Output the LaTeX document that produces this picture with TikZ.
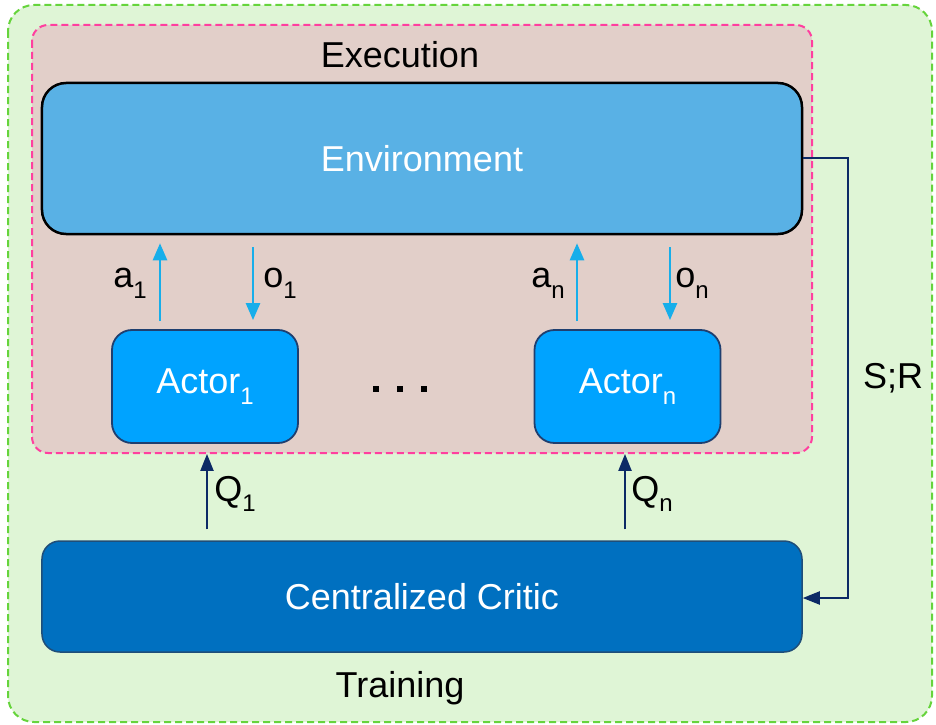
\documentclass[tikz,border=0pt]{standalone}
\usepackage{fontspec}
\setmainfont{Liberation Sans}
\usetikzlibrary{arrows.meta,calc}
\definecolor{trainfill}{HTML}{DFF5D6}
\definecolor{trainline}{HTML}{66D43C}
\definecolor{execfill}{HTML}{E2CFC9}
\definecolor{execline}{HTML}{FF3F9F}
\definecolor{envfill}{HTML}{59B1E5}
\definecolor{actfill}{HTML}{00A3FF}
\definecolor{actline}{HTML}{1F3F6F}
\definecolor{criticfill}{HTML}{0070C0}
\definecolor{criticline}{HTML}{1F4E79}
\definecolor{lightarrow}{HTML}{17AEEA}
\definecolor{darkarrow}{HTML}{0C2A66}
\newcommand{\lowidx}[1]{\raisebox{-0.3em}{\fontsize{24bp}{26bp}\selectfont #1}}
\begin{document}
\begin{tikzpicture}[x=1bp,y=-1bp,
  every node/.style={font=\fontsize{36bp}{42bp}\selectfont, inner sep=0pt},
  envbox/.style={draw=black, line width=2.5bp, fill=envfill, rounded corners=24bp,
    minimum width=760bp, minimum height=151bp, text=white},
  actorbox/.style={draw=actline, line width=1.8bp, fill=actfill, rounded corners=20bp,
    minimum width=186bp, minimum height=113bp, text=white},
  criticbox/.style={draw=criticline, line width=1.5bp, fill=criticfill, rounded corners=18bp,
    minimum width=760bp, minimum height=111bp, text=white},
  lightflow/.style={draw=lightarrow, line width=2.5bp, -{Triangle[length=17bp,width=14bp]}},
  darkflow/.style={draw=darkarrow, line width=2.2bp, -{Triangle[length=17bp,width=13bp]}},
  lbl/.style={text=black},
  dotmark/.style={fill=black, minimum size=6.5bp, inner sep=0pt}
]
\useasboundingbox (0,0) rectangle (936,725);

% training area
\draw[trainline, fill=trainfill, line width=2bp, dash pattern=on 7bp off 4bp, rounded corners=26bp]
  (8,5) rectangle (932,722);
\node[lbl] (training) at (400,688) {Training};

% execution area
\draw[execline, fill=execfill, line width=2bp, dash pattern=on 7bp off 4bp, rounded corners=16bp]
  (32,25) rectangle (812,453);
\node[lbl] (execution) at (400,55) {Execution};

% main blocks
\node[envbox] (env) at (422,158.5) {Environment};
\node[actorbox] (act1) at (205,386.5) {Actor\lowidx{1}};
\node[actorbox] (actn) at (627.5,386.5) {Actor\lowidx{n}};
\node[criticbox] (critic) at (422,596.5) {Centralized Critic};

% ellipsis between the actors
\node[dotmark] (dot1) at (376,389) {};
\node[dotmark] (dot2) at (400,389) {};
\node[dotmark] (dot3) at (424,389) {};

% actions and observations
\draw[lightflow, shorten <=8bp, shorten >=8bp] (act1.north -| 160,0) -- (env.south -| 160,0);
\draw[lightflow, shorten <=12bp, shorten >=9bp] (env.south -| 253,0) -- (act1.north -| 253,0);
\draw[lightflow, shorten <=8bp, shorten >=8bp] (actn.north -| 577,0) -- (env.south -| 577,0);
\draw[lightflow, shorten <=12bp, shorten >=9bp] (env.south -| 670,0) -- (actn.north -| 670,0);
\node[lbl] (a1) at (130,283) {a\lowidx{1}};
\node[lbl] (o1) at (280,283) {o\lowidx{1}};
\node[lbl] (an) at (548,283) {a\lowidx{n}};
\node[lbl] (on) at (692,283) {o\lowidx{n}};

% value signals from the critic
\draw[darkflow, shorten <=11bp, shorten >=10bp] (critic.north -| 207,0) -- (act1.south -| 207,0);
\draw[darkflow, shorten <=11bp, shorten >=10bp] (critic.north -| 625,0) -- (actn.south -| 625,0);
\node[lbl] (q1) at (235,494) {Q\lowidx{1}};
\node[lbl] (qn) at (652,494) {Q\lowidx{n}};

% state and reward to the critic
\coordinate (srtop) at (848,158);
\coordinate (srbot) at (848,598);
\draw[darkflow, line width=2bp] (env.east |- srtop) -- (srtop) -- (srbot) -- (critic.east |- srbot);
\node[lbl] (sr) at (893,378) {S;R};
\end{tikzpicture}
\end{document}
